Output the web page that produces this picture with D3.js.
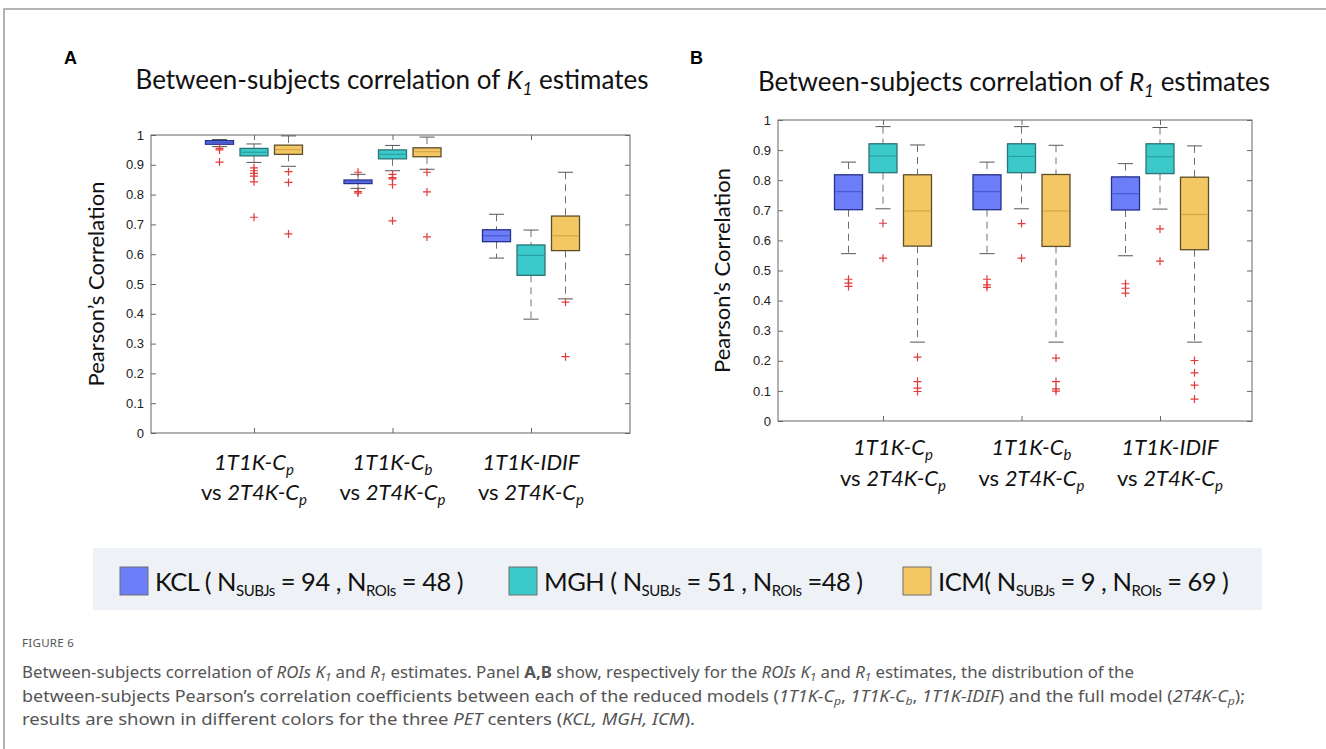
<!DOCTYPE html>
<html>
<head>
<meta charset="utf-8">
<script src="https://cdn.jsdelivr.net/npm/d3@7"></script>
<style>
  body { margin: 0; background: #fff; }
  svg { display: block; }
</style>
</head>
<body>
<div id="fig"></div>
<script>
// categories / groups
const categories = ["1T1K-Cp", "1T1K-Cb", "1T1K-IDIF"];
const catSub = ["p", "b", ""];
const centers = ["KCL", "MGH", "ICM"];
const yTicks = [0, 0.1, 0.2, 0.3, 0.4, 0.5, 0.6, 0.7, 0.8, 0.9, 1];

// box stats: [category, center, lowWhisker, q1, median, q3, highWhisker]
const k1Boxes = [
  ["1T1K-Cp", "KCL", 0.961, 0.969, 0.975, 0.981, 0.985],
  ["1T1K-Cp", "MGH", 0.908, 0.930, 0.942, 0.955, 0.970],
  ["1T1K-Cp", "ICM", 0.895, 0.935, 0.951, 0.966, 0.997],
  ["1T1K-Cb", "KCL", 0.821, 0.837, 0.843, 0.849, 0.868],
  ["1T1K-Cb", "MGH", 0.880, 0.920, 0.935, 0.950, 0.965],
  ["1T1K-Cb", "ICM", 0.885, 0.927, 0.944, 0.957, 0.993],
  ["1T1K-IDIF", "KCL", 0.587, 0.642, 0.662, 0.682, 0.734],
  ["1T1K-IDIF", "MGH", 0.382, 0.529, 0.596, 0.631, 0.681],
  ["1T1K-IDIF", "ICM", 0.450, 0.612, 0.662, 0.728, 0.875]
];
const k1Outliers = [
  ["1T1K-Cp", "KCL", 0.955], ["1T1K-Cp", "KCL", 0.950], ["1T1K-Cp", "KCL", 0.909],
  ["1T1K-Cp", "MGH", 0.890], ["1T1K-Cp", "MGH", 0.880], ["1T1K-Cp", "MGH", 0.871],
  ["1T1K-Cp", "MGH", 0.862], ["1T1K-Cp", "MGH", 0.843], ["1T1K-Cp", "MGH", 0.724],
  ["1T1K-Cp", "ICM", 0.877], ["1T1K-Cp", "ICM", 0.841], ["1T1K-Cp", "ICM", 0.668],
  ["1T1K-Cb", "KCL", 0.875], ["1T1K-Cb", "KCL", 0.810], ["1T1K-Cb", "KCL", 0.805],
  ["1T1K-Cb", "MGH", 0.868], ["1T1K-Cb", "MGH", 0.857], ["1T1K-Cb", "MGH", 0.853],
  ["1T1K-Cb", "MGH", 0.833], ["1T1K-Cb", "MGH", 0.712],
  ["1T1K-Cb", "ICM", 0.875], ["1T1K-Cb", "ICM", 0.809], ["1T1K-Cb", "ICM", 0.658],
  ["1T1K-IDIF", "ICM", 0.439], ["1T1K-IDIF", "ICM", 0.256]
];

const r1Boxes = [
  ["1T1K-Cp", "KCL", 0.556, 0.702, 0.762, 0.818, 0.860],
  ["1T1K-Cp", "MGH", 0.705, 0.825, 0.880, 0.921, 0.978],
  ["1T1K-Cp", "ICM", 0.262, 0.581, 0.698, 0.818, 0.917],
  ["1T1K-Cb", "KCL", 0.556, 0.702, 0.762, 0.818, 0.860],
  ["1T1K-Cb", "MGH", 0.705, 0.825, 0.879, 0.921, 0.978],
  ["1T1K-Cb", "ICM", 0.262, 0.580, 0.698, 0.819, 0.916],
  ["1T1K-IDIF", "KCL", 0.549, 0.701, 0.755, 0.811, 0.855],
  ["1T1K-IDIF", "MGH", 0.704, 0.822, 0.878, 0.921, 0.975],
  ["1T1K-IDIF", "ICM", 0.262, 0.569, 0.686, 0.810, 0.914]
];
const r1Outliers = [
  ["1T1K-Cp", "KCL", 0.471], ["1T1K-Cp", "KCL", 0.458], ["1T1K-Cp", "KCL", 0.447],
  ["1T1K-Cp", "MGH", 0.657], ["1T1K-Cp", "MGH", 0.541],
  ["1T1K-Cp", "ICM", 0.212], ["1T1K-Cp", "ICM", 0.131], ["1T1K-Cp", "ICM", 0.109], ["1T1K-Cp", "ICM", 0.098],
  ["1T1K-Cb", "KCL", 0.471], ["1T1K-Cb", "KCL", 0.452], ["1T1K-Cb", "KCL", 0.444],
  ["1T1K-Cb", "MGH", 0.656], ["1T1K-Cb", "MGH", 0.541],
  ["1T1K-Cb", "ICM", 0.209], ["1T1K-Cb", "ICM", 0.131], ["1T1K-Cb", "ICM", 0.107], ["1T1K-Cb", "ICM", 0.099],
  ["1T1K-IDIF", "KCL", 0.456], ["1T1K-IDIF", "KCL", 0.441], ["1T1K-IDIF", "KCL", 0.425],
  ["1T1K-IDIF", "MGH", 0.638], ["1T1K-IDIF", "MGH", 0.531],
  ["1T1K-IDIF", "ICM", 0.201], ["1T1K-IDIF", "ICM", 0.160], ["1T1K-IDIF", "ICM", 0.119], ["1T1K-IDIF", "ICM", 0.073]
];

// legend
const nSubjs = [94, 51, 9];
const nRois = [48, 48, 69];

const fill = d3.scaleOrdinal().domain(centers).range(["#6b7ef7", "#3cc9c9", "#f3c763"]);
const edge = d3.scaleOrdinal().domain(centers).range(["#26308a", "#2c7477", "#5e4d2a"]);
const medCol = d3.scaleOrdinal().domain(centers).range(["#4659d2", "#2aa0a2", "#d6a644"]);

const W = 1326, H = 749;
const svg = d3.select("#fig").append("svg").attr("width", W).attr("height", H);

// frame
svg.append("path").attr("d", `M4,${H}V9H${W}`).attr("fill", "none")
   .attr("stroke", "#b4b4b4").attr("stroke-width", 2);

// rich text helper: parts = [text, style] ; style: i italic, s subscript, b bold
// shift = subscript drop in px
function rich(sel, parts, subSize, shift) {
  let sub = false;
  parts.forEach(p => {
    const [t, st = ""] = typeof p === "string" ? [p, ""] : p;
    const ts = sel.append("tspan").text(t);
    if (st.includes("i")) ts.attr("font-style", "italic");
    if (st.includes("b")) ts.attr("font-weight", "bold");
    if (st.includes("s")) {
      ts.attr("font-size", subSize);
      if (!sub) ts.attr("dy", shift);
      sub = true;
    } else if (sub) {
      ts.attr("dy", -shift);
      sub = false;
    }
  });
}

function panel(opt) {
  const {left, right, top, bottom, boxes, outliers, letter, title, sym, xLab1, xLab2, labOff, yLabX} = opt;
  const g = svg.append("g");

  const x = d3.scalePoint().domain(categories).range([opt.c0, opt.c1]);
  const xi = d3.scalePoint().domain(centers).range([-34.5, 34.5]);
  const y = d3.scaleLinear().domain([0, 1]).range([bottom, top]);
  const bw = 28, cap = 7.5;

  // panel letter + title
  g.append("text").attr("x", letter[0]).attr("y", letter[1])
   .attr("font-family", "Liberation Sans, Arial").attr("font-weight", "bold")
   .attr("font-size", 18).text(letter[2]);
  const tt = g.append("text").attr("x", title[0]).attr("y", title[1])
   .attr("text-anchor", "middle").attr("font-family", "Lato").attr("font-size", 26).attr("fill", "#111");
  rich(tt, ["Between-subjects correlation of ", [sym, "i"], ["1", "is"], " estimates"], 17, 6);

  // axes, ticks pointing inwards
  const fmt = d => d === 0 || d === 1 ? String(d) : d.toFixed(1);
  const ax = g.append("g").attr("transform", `translate(${left},0)`)
    .call(d3.axisLeft(y).tickValues(yTicks).tickSize(-5).tickPadding(7).tickFormat(fmt));
  ax.selectAll("text").attr("font-family", "Liberation Sans, Arial").attr("font-size", 13).attr("fill", "#222");
  g.append("g").attr("transform", `translate(${right},0)`)
    .call(d3.axisRight(y).tickValues(yTicks).tickSize(-5).tickFormat(""));
  g.append("g").attr("transform", `translate(0,${bottom})`)
    .call(d3.axisBottom(x).tickSize(-5).tickFormat(""));
  g.append("g").attr("transform", `translate(0,${top})`)
    .call(d3.axisTop(x).tickSize(-5).tickFormat(""));
  g.selectAll(".domain").remove();
  g.selectAll(".tick line").attr("stroke", "#666");
  g.append("rect").attr("x", left).attr("y", top).attr("width", right - left).attr("height", bottom - top)
   .attr("fill", "none").attr("stroke", "#666").attr("stroke-width", 1);

  // y label
  g.append("text").attr("transform", `translate(${yLabX},${(top + bottom) / 2}) rotate(-90)`)
   .attr("text-anchor", "middle").attr("font-family", "Lato").attr("font-size", 22).attr("fill", "#111")
   .text("Pearson’s Correlation");

  // x labels
  categories.forEach((c, i) => {
    const cx = x(c) + labOff;
    const l1 = g.append("text").attr("x", cx).attr("y", xLab1).attr("text-anchor", "middle")
      .attr("font-family", "Lato").attr("font-size", 22).attr("fill", "#111");
    const base = c.replace(/C[pb]$/, "C");
    rich(l1, catSub[i] ? [[base, "i"], [catSub[i], "is"]] : [[c, "i"]], 15, 5);
    const l2 = g.append("text").attr("x", cx).attr("y", xLab2).attr("text-anchor", "middle")
      .attr("font-family", "Lato").attr("font-size", 22).attr("fill", "#111");
    rich(l2, ["vs ", ["2T4K-C", "i"], ["p", "is"]], 15, 5);
  });

  // boxes
  const bx = d => x(d[0]) + xi(d[1]);
  const bg = g.selectAll(".box").data(boxes).join("g");
  bg.append("line").attr("x1", bx).attr("x2", bx).attr("y1", d => y(d[6])).attr("y2", d => y(d[5]))
    .attr("stroke", "#707070").attr("stroke-dasharray", "7,5");
  bg.append("line").attr("x1", bx).attr("x2", bx).attr("y1", d => y(d[3])).attr("y2", d => y(d[2]))
    .attr("stroke", "#707070").attr("stroke-dasharray", "7,5");
  bg.append("line").attr("x1", d => bx(d) - cap).attr("x2", d => bx(d) + cap)
    .attr("y1", d => y(d[6])).attr("y2", d => y(d[6])).attr("stroke", "#555");
  bg.append("line").attr("x1", d => bx(d) - cap).attr("x2", d => bx(d) + cap)
    .attr("y1", d => y(d[2])).attr("y2", d => y(d[2])).attr("stroke", "#555");
  bg.append("rect").attr("x", d => bx(d) - bw / 2).attr("width", bw)
    .attr("y", d => y(d[5])).attr("height", d => y(d[3]) - y(d[5]))
    .attr("fill", d => fill(d[1])).attr("stroke", d => edge(d[1])).attr("stroke-width", 1.3);
  bg.append("line").attr("x1", d => bx(d) - bw / 2 + 1).attr("x2", d => bx(d) + bw / 2 - 1)
    .attr("y1", d => y(d[4])).attr("y2", d => y(d[4])).attr("stroke", d => medCol(d[1])).attr("stroke-width", 1.2);

  // outliers
  g.selectAll(".out").data(outliers).join("path")
    .attr("transform", d => `translate(${bx(d)},${y(d[2])})`)
    .attr("d", "M-4,0H4M0,-4V4").attr("stroke", "#e23b3b").attr("stroke-width", 1.2);
}

panel({left: 151, right: 630, top: 135, bottom: 433, c0: 254, c1: 531,
  boxes: k1Boxes, outliers: k1Outliers, letter: [64, 64, "A"], title: [392, 89], sym: "K",
  xLab1: 470, xLab2: 500, labOff: 0, yLabX: 104});
panel({left: 778, right: 1252, top: 120, bottom: 421, c0: 883, c1: 1160,
  boxes: r1Boxes, outliers: r1Outliers, letter: [690, 64, "B"], title: [1014, 91], sym: "R",
  xLab1: 455, xLab2: 486, labOff: 10, yLabX: 730});

// legend
svg.append("rect").attr("x", 93).attr("y", 548).attr("width", 1169).attr("height", 62).attr("fill", "#eef2f6");
const lx = [120, 509, 903];
centers.forEach((c, i) => {
  svg.append("rect").attr("x", lx[i]).attr("y", 567).attr("width", 28).attr("height", 28)
    .attr("fill", fill(c)).attr("stroke", "#6f6f6f").attr("stroke-width", 1);
  const t = svg.append("text").attr("x", lx[i] + 35).attr("y", 591)
    .attr("font-family", "Lato").attr("font-size", 25.5).attr("letter-spacing", -0.5).attr("fill", "#111");
  const sp = c === "ICM" ? "" : " ";
  const eq2 = c === "MGH" ? " =" : " = ";
  rich(t, [`${c}${sp}( N`, ["SUBJs", "s"], ` = ${nSubjs[i]} , N`, ["ROIs", "s"], `${eq2}${nRois[i]} )`], 15, 5);
});

// caption
const cap = svg.append("g").attr("font-family", "Noto Sans").attr("fill", "#555");
cap.append("text").attr("x", 22).attr("y", 647).attr("font-size", 11.5).attr("letter-spacing", 0.3).text("FIGURE 6");
const capLines = [
  [["Between-subjects correlation of "], ["ROIs K", "i"], ["1", "is"], [" and "], ["R", "i"], ["1", "is"],
   [" estimates. Panel "], ["A,B", "b"], [" show, respectively for the "], ["ROIs K", "i"], ["1", "is"], [" and "],
   ["R", "i"], ["1", "is"], [" estimates, the distribution of the"]],
  [["between-subjects Pearson’s correlation coefficients between each of the reduced models ("], ["1T1K-C", "i"], ["p", "is"],
   [", "], ["1T1K-C", "i"], ["b", "is"], [", "], ["1T1K-IDIF", "i"], [") and the full model ("], ["2T4K-C", "i"], ["p", "is"], [");"]],
  [["results are shown in different colors for the three "], ["PET", "i"], [" centers ("], ["KCL, MGH, ICM", "i"], [")."]]
];
const capLen = [1112, 1223, 673];
capLines.forEach((ln, i) => {
  const t = cap.append("text").attr("x", 22).attr("y", 678 + i * 23.5).attr("font-size", 15.5)
    .attr("textLength", capLen[i]).attr("lengthAdjust", "spacingAndGlyphs");
  rich(t, ln.map(p => p.length === 1 ? p[0] : p), 10.5, 3);
});
</script>
</body>
</html>
